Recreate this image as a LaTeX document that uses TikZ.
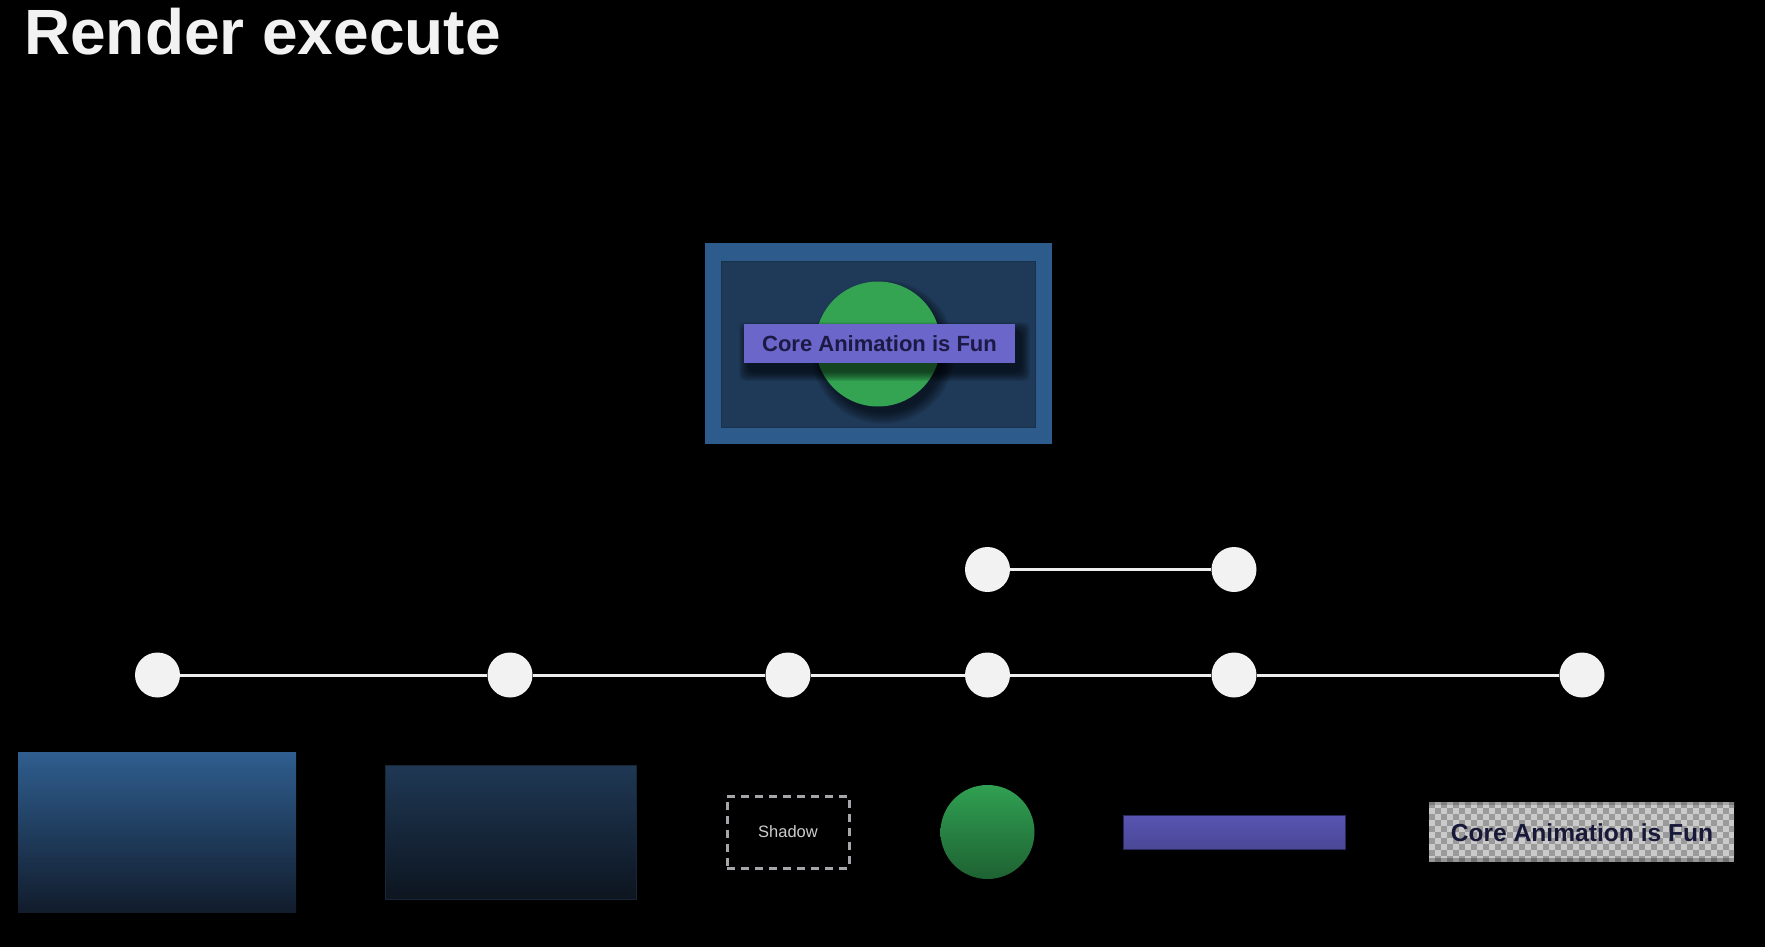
\documentclass[tikz,border=0pt]{standalone}
\usepackage{fontspec}
\setmainfont{Liberation Sans}
\definecolor{bg}{HTML}{000000}
\definecolor{frameblue}{HTML}{2D5B8C}
\definecolor{innerblue}{HTML}{1F3A58}
\definecolor{cagreen}{HTML}{34A352}
\definecolor{labelfill}{HTML}{6B66C9}
\definecolor{labeltext}{HTML}{1C1A45}
\definecolor{dotc}{HTML}{F2F2F2}
\definecolor{linec}{HTML}{EEEEEE}
\definecolor{chklight}{HTML}{CACACA}
\definecolor{chkdark}{HTML}{9A9A9A}
\begin{document}
\begin{tikzpicture}[x=1pt,y=-1pt,
  dot/.style={circle,fill=dotc,minimum size=45pt,inner sep=0pt},
  tl/.style={draw=linec,line width=3pt},
  box/.style={rectangle,inner sep=0pt},
  calabel/.style={font=\bfseries\fontsize{22}{26}\selectfont,text=labeltext}]
\useasboundingbox (0,0) rectangle (1765,947);
\fill[bg] (0,0) rectangle (1765,947);

% title
\node[anchor=base west,inner sep=0pt,text=dotc,font=\bfseries\fontsize{64}{77}\selectfont] (title) at (24,55) {Render execute};

% composite at top
\node[box,fill=frameblue,minimum width=347pt,minimum height=201pt] (frame) at (878,343.5) {};
\node[box,fill=innerblue,draw=innerblue!85!black,line width=0.8pt,minimum width=314pt,minimum height=166pt] (inner) at (878,344) {};
\foreach \k in {0,...,9}
  \fill[black,opacity=0.07] (883,352) circle ({60+12-\k*1.3});
\node[circle,fill=cagreen,minimum size=125pt,inner sep=0pt] (circ) at (878,344) {};
\foreach \k in {0,...,9}
  \fill[black,opacity=0.08,rounded corners=6pt] ({744+5-10+\k*1.0},{324+8-10+\k*1.0}) rectangle ({1015+5+10-\k*1.0},{363+8+10-\k*1.0});
\node[box,fill=labelfill,minimum width=271pt,minimum height=39pt] (label) at (879.5,343.5) {};
\node[calabel,inner sep=0pt] (labeltxt) at (879.5,344) {Core Animation is Fun};

% timeline
\node[dot] (t1) at (157.5,675) {};
\node[dot] (t2) at (510,675) {};
\node[dot] (t3) at (788,675) {};
\node[dot] (t4) at (987.5,675) {};
\node[dot] (t5) at (1234,675) {};
\node[dot] (t6) at (1582,675) {};
\node[dot] (u1) at (987.5,569.5) {};
\node[dot] (u2) at (1234,569.5) {};
\draw[tl] (t1) -- (t2);
\draw[tl] (t2) -- (t3);
\draw[tl] (t3) -- (t4);
\draw[tl] (t4) -- (t5);
\draw[tl] (t5) -- (t6);
\draw[tl] (u1) -- (u2);

% bottom layers
\node[box,top color={rgb,255:red,47;green,94;blue,143},bottom color={rgb,255:red,17;green,28;blue,44},minimum width=278pt,minimum height=160pt] (l1) at (157,832) {};
\node[box,top color={rgb,255:red,31;green,56;blue,84},bottom color={rgb,255:red,13;green,21;blue,32},draw={rgb,255:red,25;green,38;blue,55},line width=0.6pt,minimum width=251pt,minimum height=134pt] (l2) at (510.5,832) {};
\node[box,draw={rgb,255:red,165;green,165;blue,170},dash pattern=on 8pt off 6pt,line width=3pt,minimum width=122pt,minimum height=72pt,text={rgb,255:red,205;green,205;blue,205},font=\fontsize{16.5}{20}\selectfont] (l3) at (788,832) {Shadow};
\node[circle,inner sep=0pt,minimum size=94pt,top color={rgb,255:red,48;green,160;blue,82},bottom color={rgb,255:red,30;green,98;blue,50}] (l4) at (987.5,832) {};
\node[box,top color={rgb,255:red,88;green,84;blue,178},bottom color={rgb,255:red,74;green,72;blue,150},draw={rgb,255:red,40;green,40;blue,90},line width=0.6pt,minimum width=222pt,minimum height=34pt] (l5) at (1234,832) {};
\begin{scope}
  \clip (1429,802) rectangle (1734,862);
  \fill[chklight] (1429,802) rectangle (1734,862);
  \foreach \j in {0,...,9} {
    \pgfmathtruncatemacro\s{mod(\j,2)}
    \foreach \i in {0,...,25}
      \fill[chkdark] ({1429+(2*\i+\s)*6},{802+\j*6}) rectangle ++(6,6);
  }
  \fill[black,opacity=0.18] (1429,802) rectangle (1734,805);
  \fill[black,opacity=0.25] (1429,858) rectangle (1734,862);
\end{scope}
\node[box,minimum width=305pt,minimum height=60pt] (l6) at (1581.5,832) {};
\node[calabel,font=\bfseries\fontsize{24.6}{28}\selectfont,inner sep=0pt,text={rgb,255:red,24;green,24;blue,56}] (l6txt) at (1582,833) {Core Animation is Fun};
\end{tikzpicture}
\end{document}
